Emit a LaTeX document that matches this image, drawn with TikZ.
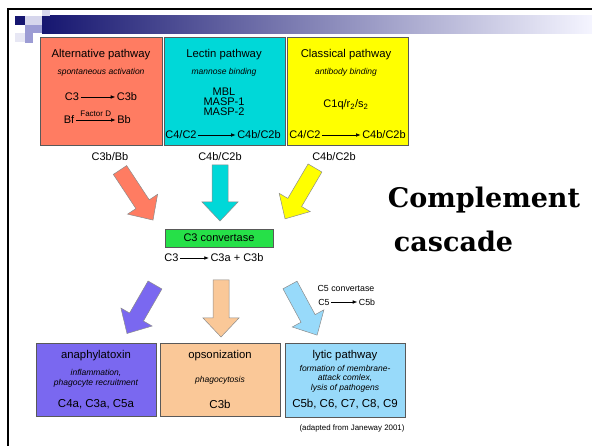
\documentclass[tikz,border=0pt]{standalone}
\usepackage{fontspec}
\setmainfont{Liberation Sans}
\newfontfamily\headfont{DejaVu Serif}
\usetikzlibrary{arrows.meta}

\definecolor{altred}{RGB}{255,124,98}
\definecolor{lectincyan}{RGB}{0,216,216}
\definecolor{classyellow}{RGB}{255,255,0}
\definecolor{convgreen}{RGB}{38,224,72}
\definecolor{anaviolet}{RGB}{122,104,240}
\definecolor{opsopeach}{RGB}{250,200,152}
\definecolor{lyticblue}{RGB}{152,218,250}
\definecolor{barnavy}{RGB}{22,22,112}
\definecolor{sqlight}{RGB}{214,214,236}
\definecolor{sqmid}{RGB}{156,156,212}

% fat block arrow: colour, tail centre, rotation, length
\newcommand{\fatarrow}[4]{%
  \begin{scope}[shift={#2},rotate=#3]
    \filldraw[fill=#1,draw=black!45,line width=0.5pt]
      (0,-8) -- (#4-19,-8) -- (#4-19,-18) -- (#4,0) -- (#4-19,18) -- (#4-19,8) -- (0,8) -- cycle;
  \end{scope}}

\tikzset{
  pathbox/.style={draw=black!65, line width=0.6pt, inner sep=0pt},
  boxtitle/.style={font=\fontsize{11.3}{12}\selectfont},
  boxnote/.style={font=\fontsize{8.5}{9.5}\selectfont\itshape, align=center},
  chem/.style={font=\fontsize{11}{11}\selectfont, inner sep=1.5pt},
  smallchem/.style={font=\fontsize{8.8}{9}\selectfont, inner sep=1.5pt},
  react/.style={-{Latex[length=4.5pt,width=3.6pt]}, line width=0.6pt},
}

\begin{document}
\begin{tikzpicture}[x=1pt,y=-1pt]
        \useasboundingbox (0,0) rectangle (592,446);

        % slide frame and title bar
        \draw[line width=2pt] (8,446) -- (8,9.5) -- (592,9.5);
        \shade[left color=barnavy, right color=white!96!blue] (42,16) rectangle (592,34);
        \fill[barnavy] (15,16) rectangle (25,25);
        \fill[sqlight] (25,16) rectangle (42,25);
        \fill[sqlight] (42,10.5) rectangle (50,16);
        \fill[sqmid] (25,25) rectangle (42,33);
        \fill[sqlight!60] (15,33) rectangle (25,42);
        \fill[sqmid] (25,33) rectangle (33,43);

        % pathway boxes
        \node[pathbox, fill=altred, minimum width=122, minimum height=108] (alt) at (101,91) {};
        \node[pathbox, fill=lectincyan, minimum width=121, minimum height=108] (lectin) at (224.5,91) {};
        \node[pathbox, fill=classyellow, minimum width=121, minimum height=108] (classical) at (347.5,91) {};

        \node[boxtitle] (alttitle) at (101,55) {Alternative pathway};
        \node[boxnote] (altnote) at (101,72) {spontaneous activation};
        \node[chem] (altc3) at (72,97) {C3};
        \node[chem] (altc3b) at (127,97) {C3b};
        \draw[react] (altc3) -- (altc3b);
        \node[chem] (altbf) at (69,120) {Bf};
        \node[chem] (altbb) at (124,120) {Bb};
        \draw[react] (altbf) -- node[above, font=\fontsize{8}{9}\selectfont, inner sep=3pt] (factord) {Factor D} (altbb);

        \node[boxtitle] (lectintitle) at (224,55) {Lectin pathway};
        \node[boxnote] (lectinnote) at (224,72) {mannose binding};
        \node[chem, align=center, font=\fontsize{11}{10}\selectfont] (lectinenz) at (224,102) {MBL\\MASP-1\\MASP-2};
        \node[chem] (lectinc4) at (181,135) {C4/C2};
        \node[chem] (lectinc4b) at (259,135) {C4b/C2b};
        \draw[react] (lectinc4) -- (lectinc4b);

        \node[boxtitle] (classtitle) at (346,55) {Classical pathway};
        \node[boxnote] (classnote) at (346,72) {antibody binding};
        \node[chem] (classc1) at (346,105) {C1q/r\textsubscript{2}/s\textsubscript{2}};
        \node[chem] (classc4) at (305,135) {C4/C2};
        \node[chem] (classc4b) at (384,135) {C4b/C2b};
        \draw[react] (classc4) -- (classc4b);

        \node[chem] (altout) at (110,157) {C3b/Bb};
        \node[chem] (lectinout) at (220,157) {C4b/C2b};
        \node[chem] (classout) at (334,157) {C4b/C2b};

        % arrows into the C3 convertase
        \fatarrow{altred}{(120,170)}{-56.6}{60}
        \fatarrow{lectincyan}{(220,165)}{-90}{56}
        \fatarrow{classyellow}{(315,168)}{-120.5}{59}

        \node[pathbox, fill=convgreen, minimum width=108, minimum height=18, font=\fontsize{11}{11}\selectfont] (conv) at (219,238) {C3 convertase};
        \node[chem] (convc3) at (171.5,258) {C3};
        \node[chem] (convc3ab) at (237,258) {C3a + C3b};
        \draw[react] (convc3) -- (convc3ab);

        \node[anchor=base, font=\headfont\bfseries\fontsize{27}{30}\selectfont] (headone) at (484,208) {Complement};
        \node[anchor=base, font=\headfont\bfseries\fontsize{27}{30}\selectfont] (headtwo) at (453.5,252) {cascade};

        % arrows out to the effector boxes
        \fatarrow{anaviolet}{(155,285)}{-120}{56}
        \fatarrow{opsopeach}{(221,280)}{-90}{57}
        \fatarrow{lyticblue}{(290,285)}{-61.6}{57}

        \node[smallchem] (c5conv) at (346,288) {C5 convertase};
        \node[smallchem] (c5) at (324,302) {C5};
        \node[smallchem] (c5b) at (367,302) {C5b};
        \draw[react] (c5) -- (c5b);

        % effector boxes
        \node[pathbox, fill=anaviolet, minimum width=120, minimum height=73] (ana) at (96,379.5) {};
        \node[pathbox, fill=opsopeach, minimum width=120, minimum height=73] (opso) at (220,379.5) {};
        \node[pathbox, fill=lyticblue, minimum width=120, minimum height=74] (lytic) at (345,380) {};

        \node[boxtitle] (anatitle) at (96,356) {anaphylatoxin};
        \node[boxnote] (ananote) at (96,378.5) {inflammation,\\phagocyte recruitment};
        \node[chem, font=\fontsize{11.5}{12}\selectfont] (anaprod) at (96,404) {C4a, C3a, C5a};

        \node[boxtitle] (opsotitle) at (220,356) {opsonization};
        \node[boxnote] (opsonote) at (220,380) {phagocytosis};
        \node[chem, font=\fontsize{11.5}{12}\selectfont] (opsoprod) at (220,404) {C3b};

        \node[boxtitle] (lytictitle) at (345,356) {lytic pathway};
        \node[boxnote] (lyticnote) at (345,378.5) {formation of membrane-\\attack comlex,\\lysis of pathogens};
        \node[chem, font=\fontsize{11.5}{12}\selectfont] (lyticprod) at (345,404) {C5b, C6, C7, C8, C9};

        \node[font=\fontsize{7.9}{9}\selectfont] (source) at (352,428) {(adapted from Janeway 2001)};
      \end{tikzpicture}
\end{document}
